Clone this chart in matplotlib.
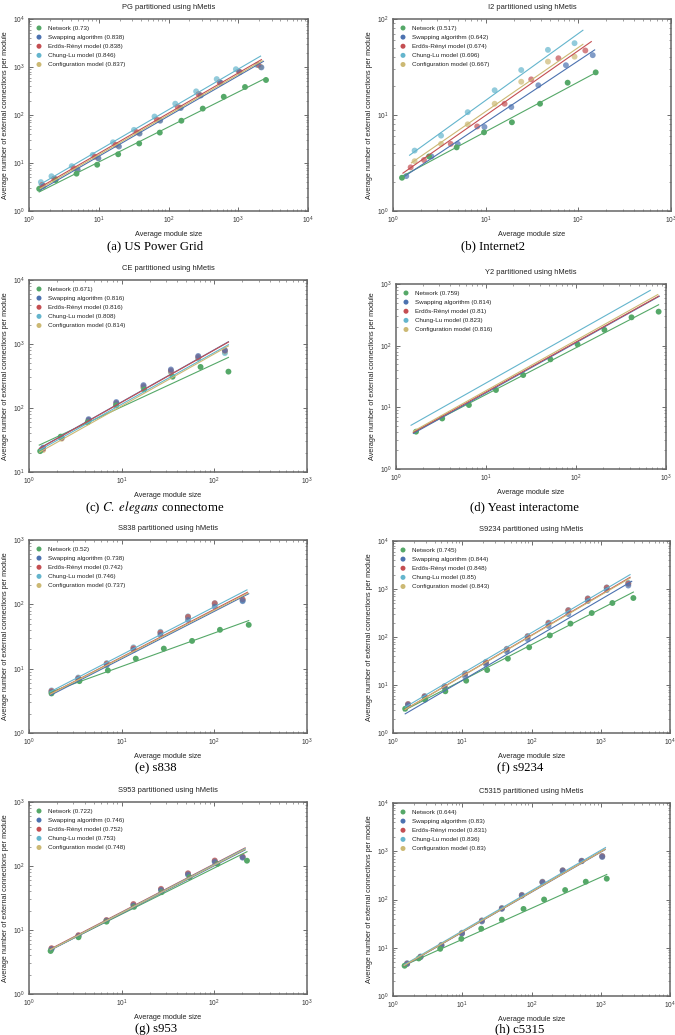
import numpy as np
import matplotlib
matplotlib.use("Agg")
import matplotlib.pyplot as plt

plt.rcParams['font.family'] = ['Liberation Sans', 'DejaVu Sans']
plt.rcParams['mathtext.fontset'] = 'stix'

COLORS = ['#55A868', '#4C72B0', '#C44E52', '#64B5CD', '#CCB974']
SERIES = ['net', 'swap', 'er', 'cl', 'cfg']
NAMES = ['Network', 'Swapping algorithm', 'Erdős-Rényi model', 'Chung-Lu model', 'Configuration model']

# ---------------- (a) PG ----------------
PG_X = {
    'net':  [1.4, 2.4, 4.8, 9.5, 19, 38, 75, 153, 310, 620, 1250, 2500],
    'swap': [1.6, 2.4, 5.0, 9.9, 19.5, 38.5, 76, 150, 290, 560, 1050, 2150],
    'er':   [1.55, 2.3, 4.4, 8.8, 17.5, 35, 68, 135, 270, 540, 1030, 1950],
    'cl':   [1.48, 2.1, 4.1, 8.2, 16, 32, 63, 125, 249, 491, 925, 1860],
    'cfg':  [1.6, 2.4, 4.9, 9.7, 19, 38, 75, 148, 285, 550, 1040, 2100],
}
PG_Y = {
    'net':  [2.9, 4.4, 6.0, 9.2, 15.2, 25.5, 43, 76, 136, 240, 383, 536],
    'swap': [3.3, 4.6, 7.2, 12.5, 22, 41, 76, 140, 255, 470, 780, 980],
    'er':   [3.5, 4.7, 7.8, 13.5, 24, 44, 80, 148, 270, 480, 800, 1100],
    'cl':   [4.0, 5.3, 8.6, 14.8, 27, 49, 93, 172, 311, 560, 900, 1100],
    'cfg':  [3.4, 4.6, 7.4, 12.8, 23, 42, 78, 143, 260, 475, 790, 1000],
}
PG_EXP = {'net': 0.73, 'swap': 0.838, 'er': 0.838, 'cl': 0.846, 'cfg': 0.837}
PG_COEF = {'net': 1.95, 'swap': 2.0, 'er': 2.3, 'cl': 2.62, 'cfg': 2.15}
PG_SPAN = {'net': [1.4, 2500], 'swap': [1.45, 2300], 'er': [1.45, 2150], 'cl': [1.4, 2090], 'cfg': [1.45, 2200]}

# ---------------- (b) I2 ----------------
I2_X = {
    'net':  [1.25, 2.45, 4.86, 9.6, 19.2, 38.6, 76.7, 154],
    'swap': [1.39, 2.6, 5.0, 9.7, 18.9, 37, 73.5, 143],
    'er':   [1.55, 2.16, 4.2, 8.1, 16, 31, 61, 119],
    'cl':   [1.71, 3.3, 6.4, 12.5, 24.2, 47, 91],
    'cfg':  [1.71, 3.3, 6.4, 12.5, 24.2, 47, 91],
}
I2_Y = {
    'net':  [2.22, 3.7, 4.6, 6.6, 8.4, 13.1, 21.7, 27.8],
    'swap': [2.31, 3.7, 5.0, 7.5, 12.1, 20.4, 33, 42],
    'er':   [2.85, 3.4, 5.0, 7.6, 13.1, 23.5, 39, 47],
    'cl':   [4.26, 6.1, 10.7, 18.1, 29.4, 47.7, 56],
    'cfg':  [3.3, 5.0, 8.0, 13.1, 22.2, 36, 40.5],
}
I2_EXP = {'net': 0.517, 'swap': 0.642, 'er': 0.674, 'cl': 0.696, 'cfg': 0.667}
I2_COEF = {'net': 2.04, 'swap': 1.91, 'er': 2.1, 'cl': 2.86, 'cfg': 2.34}
I2_SPAN = {'net': [1.23, 156], 'swap': [1.34, 150], 'er': [1.28, 138], 'cl': [1.51, 112], 'cfg': [1.58, 112]}

# ---------------- (c) CE ----------------
CE_X = {
    'net':  [1.32, 2.2, 4.3, 8.7, 17.5, 35.4, 71, 142],
    'swap': [1.42, 2.25, 4.4, 8.75, 17.2, 34, 67, 130],
    'er':   [1.42, 2.25, 4.4, 8.75, 17.2, 34, 67, 130],
    'cl':   [1.42, 2.25, 4.4, 8.75, 17.2, 34, 67, 130],
    'cfg':  [1.42, 2.25, 4.4, 8.75, 17.2, 34, 67, 130],
}
CE_Y = {
    'net':  [21.2, 35.7, 60, 110, 195, 308, 438, 370],
    'swap': [24, 35, 67, 124, 228, 400, 650, 800],
    'er':   [23, 34, 65, 120, 220, 385, 630, 790],
    'cl':   [23.5, 34, 64, 117, 210, 370, 600, 720],
    'cfg':  [22, 33, 62, 112, 205, 360, 590, 750],
}
CE_EXP = {'net': 0.671, 'swap': 0.816, 'er': 0.816, 'cl': 0.808, 'cfg': 0.814}
CE_COEF = {'net': 22.2, 'swap': 19.0, 'er': 18.8, 'cl': 17.8, 'cfg': 16.5}
CE_SPAN = {'net': [1.29, 142], 'swap': [1.3, 142], 'er': [1.3, 142], 'cl': [1.3, 142], 'cfg': [1.3, 142]}

# ---------------- (d) Y2 ----------------
Y2_X = {
    'net':  [1.67, 3.26, 6.46, 12.9, 25.9, 52, 104, 207, 414, 828],
    'swap': [], 'er': [], 'cl': [], 'cfg': [],
}
Y2_Y = {
    'net':  [4.03, 6.6, 10.9, 19.1, 33.4, 60, 105, 180, 288, 356],
    'swap': [], 'er': [], 'cl': [], 'cfg': [],
}
Y2_EXP = {'net': 0.759, 'swap': 0.814, 'er': 0.81, 'cl': 0.823, 'cfg': 0.816}
Y2_COEF = {'net': 2.81, 'swap': 2.63, 'er': 2.75, 'cl': 3.73, 'cfg': 2.85}
Y2_SPAN = {'net': [1.56, 828], 'swap': [1.56, 843], 'er': [1.56, 830], 'cl': [1.47, 669], 'cfg': [1.56, 810]}

# ---------------- (e) S838 ----------------
S838_X = {
    'net':  [1.75, 3.5, 7.1, 14.2, 28.5, 57.5, 115, 235],
    'swap': [1.75, 3.4, 6.9, 13.4, 26.2, 52, 101, 202],
    'er':   [1.75, 3.4, 6.9, 13.4, 26.2, 52, 101, 202],
    'cl':   [1.75, 3.4, 6.9, 13.4, 26.2, 52, 101, 202],
    'cfg':  [1.75, 3.4, 6.9, 13.4, 26.2, 52, 101, 202],
}
S838_Y = {
    'net':  [4.12, 6.4, 9.4, 14.3, 20.5, 27, 40.2, 48],
    'swap': [4.3, 6.9, 11.3, 19.5, 33.5, 57, 92, 112],
    'er':   [4.5, 7.1, 12, 20.8, 36.5, 64, 104, 120],
    'cl':   [4.6, 7.3, 12.2, 21.5, 37.5, 65, 104, 115],
    'cfg':  [4.4, 7.0, 11.8, 20.3, 35.5, 62, 100, 118],
}
S838_EXP = {'net': 0.52, 'swap': 0.738, 'er': 0.742, 'cl': 0.746, 'cfg': 0.737}
S838_COEF = {'net': 3.27, 'swap': 2.6, 'er': 2.74, 'cl': 2.95, 'cfg': 2.72}
S838_SPAN = {'net': [1.68, 235], 'swap': [1.7, 235], 'er': [1.7, 228], 'cl': [1.68, 225], 'cfg': [1.7, 230]}

# ---------------- (f) S9234 ----------------
S9234_X = {
    'net':  [1.5, 2.9, 5.7, 11.4, 22.9, 45.6, 92.5, 184, 365, 741, 1473, 2958],
    'swap': [1.65, 2.86, 5.56, 11, 22, 44, 88, 176, 340, 650, 1220, 2500],
    'er':   [1.65, 2.86, 5.56, 11, 22, 44, 88, 176, 340, 650, 1220, 2500],
    'cl':   [1.65, 2.86, 5.56, 11, 22, 44, 88, 176, 340, 650, 1220, 2500],
    'cfg':  [1.65, 2.86, 5.56, 11, 22, 44, 88, 176, 340, 650, 1220, 2500],
}
S9234_Y = {
    'net':  [3.2, 4.95, 7.4, 12.3, 20.5, 35.4, 61, 108, 190, 316, 511, 649],
    'swap': [3.8, 5.5, 8.6, 15, 27, 50, 90, 170, 300, 560, 950, 1180],
    'er':   [4.0, 5.8, 9.3, 17.2, 29.6, 56, 103, 195, 360, 630, 1070, 1300],
    'cl':   [4.0, 5.9, 9.5, 17.5, 30.5, 57, 105, 200, 365, 640, 1080, 1350],
    'cfg':  [3.9, 5.7, 9.1, 16.8, 29, 54, 100, 190, 350, 610, 1040, 1280],
}
S9234_EXP = {'net': 0.745, 'swap': 0.844, 'er': 0.848, 'cl': 0.85, 'cfg': 0.843}
S9234_COEF = {'net': 2.24, 'swap': 1.78, 'er': 2.19, 'cl': 2.45, 'cfg': 2.2}
S9234_SPAN = {'net': [1.42, 2958], 'swap': [1.5, 2800], 'er': [1.5, 2650], 'cl': [1.5, 2650], 'cfg': [1.5, 2650]}

# ---------------- (g) S953 ----------------
S953_X = {
    'net':  [1.71, 3.42, 6.86, 13.6, 27, 54, 108, 225],
    'swap': [1.75, 3.42, 6.86, 13.4, 26.6, 52, 101, 202],
    'er':   [1.75, 3.42, 6.86, 13.4, 26.6, 52, 101, 202],
    'cl':   [1.75, 3.42, 6.86, 13.4, 26.6, 52, 101, 202],
    'cfg':  [1.75, 3.42, 6.86, 13.4, 26.6, 52, 101, 202],
}
S953_Y = {
    'net':  [4.7, 7.7, 13.5, 23, 39, 67, 108, 121],
    'swap': [5.0, 8.0, 13.8, 24, 42, 73, 115, 135],
    'er':   [5.2, 8.3, 14.3, 25.5, 44, 77, 122, 140],
    'cl':   [5.1, 8.2, 14.2, 25, 43, 76, 120, 138],
    'cfg':  [5.1, 8.1, 14.0, 24.5, 43, 75, 118, 137],
}
S953_EXP = {'net': 0.722, 'swap': 0.746, 'er': 0.752, 'cl': 0.753, 'cfg': 0.748}
S953_COEF = {'net': 3.35, 'swap': 3.25, 'er': 3.38, 'cl': 3.3, 'cfg': 3.3}
S953_SPAN = {'net': [1.68, 225], 'swap': [1.7, 215], 'er': [1.7, 215], 'cl': [1.7, 215], 'cfg': [1.7, 215]}

# ---------------- (h) C5315 ----------------
C5315_X = {
    'net':  [1.47, 2.35, 4.8, 9.7, 18.8, 37.3, 76.7, 152, 306, 608, 1221],
    'swap': [1.6, 2.5, 5.0, 9.9, 19.2, 37.3, 72.5, 144, 282, 530, 1050],
    'er':   [1.6, 2.5, 5.0, 9.9, 19.2, 37.3, 72.5, 144, 282, 530, 1050],
    'cl':   [1.6, 2.5, 5.0, 9.9, 19.2, 37.3, 72.5, 144, 282, 530, 1050],
    'cfg':  [1.6, 2.5, 5.0, 9.9, 19.2, 37.3, 72.5, 144, 282, 530, 1050],
}
C5315_Y = {
    'net':  [4.24, 6.0, 9.5, 15.3, 24.8, 38.2, 63.8, 100, 157, 234, 270],
    'swap': [4.6, 6.4, 11, 19.5, 35, 64, 120, 225, 390, 620, 760],
    'er':   [4.7, 6.5, 11.3, 19.9, 36.4, 65.5, 123, 230, 400, 630, 790],
    'cl':   [4.8, 6.6, 11.5, 20.5, 37, 67, 125, 235, 405, 640, 800],
    'cfg':  [4.7, 6.5, 11.2, 20, 36, 65, 122, 228, 398, 625, 780],
}
C5315_EXP = {'net': 0.644, 'swap': 0.83, 'er': 0.831, 'cl': 0.836, 'cfg': 0.83}
C5315_COEF = {'net': 3.39, 'swap': 3.1, 'er': 3.15, 'cl': 3.25, 'cfg': 3.15}
C5315_SPAN = {'net': [1.42, 1221], 'swap': [1.45, 1155], 'er': [1.45, 1155], 'cl': [1.45, 1170], 'cfg': [1.45, 1155]}

TITLES = ["PG partitioned using hMetis", "I2 partitioned using hMetis",
          "CE partitioned using hMetis", "Y2 partitioned using hMetis",
          "S838 partitioned using hMetis", "S9234 partitioned using hMetis",
          "S953 partitioned using hMetis", "C5315 partitioned using hMetis"]
CAPTIONS = ["(a) US Power Grid", "(b) Internet2",
            r"(c) $\mathit{C.\ elegans}$ connectome", "(d) Yeast interactome",
            "(e) s838", "(f) s9234", "(g) s953", "(h) c5315"]
XLIMS = [(1, 1e4), (1, 1e3), (1, 1e3), (1, 1e3), (1, 1e3), (1, 1e4), (1, 1e3), (1, 1e4)]
YLIMS = [(1, 1e4), (1, 1e2), (10, 1e4), (1, 1e3), (1, 1e3), (1, 1e4), (1, 1e3), (1, 1e4)]

DATA = [(PG_X, PG_Y, PG_EXP, PG_COEF, PG_SPAN),
        (I2_X, I2_Y, I2_EXP, I2_COEF, I2_SPAN),
        (CE_X, CE_Y, CE_EXP, CE_COEF, CE_SPAN),
        (Y2_X, Y2_Y, Y2_EXP, Y2_COEF, Y2_SPAN),
        (S838_X, S838_Y, S838_EXP, S838_COEF, S838_SPAN),
        (S9234_X, S9234_Y, S9234_EXP, S9234_COEF, S9234_SPAN),
        (S953_X, S953_Y, S953_EXP, S953_COEF, S953_SPAN),
        (C5315_X, C5315_Y, C5315_EXP, C5315_COEF, C5315_SPAN)]

# layout (pixels): left, right, top, bottom of each axes; caption centre
W, H = 675, 1035
BOXES = [(29, 308, 19, 211), (393, 671, 19, 211),
         (29, 307, 280, 472), (396, 666, 284, 469),
         (29, 307, 540, 733), (393, 670, 541, 733),
         (29, 307, 802, 994), (393, 670, 803, 996)]
CAP_POS = [(155, 246), (493, 246), (155, 507), (524, 507),
           (156, 768), (520, 768), (156, 1029), (520, 1029)]
POINT_Z = {'net': 3.0, 'swap': 2.8, 'er': 2.6, 'cl': 2.4, 'cfg': 2.2}

fig = plt.figure(figsize=(W / 100, H / 100), dpi=100)

for k in range(8):
    l, r, t, b = BOXES[k]
    ax = fig.add_axes([l / W, 1 - b / H, (r - l) / W, (b - t) / H])
    X, Y, EXP, COEF, SPAN = DATA[k]
    handles = []
    for i, s in enumerate(SERIES):
        is_net = (s == 'net')
        h = ax.scatter(X[s], Y[s], s=18, color=COLORS[i], edgecolors='none',
                       alpha=1.0 if is_net else 0.7, zorder=POINT_Z[s],
                       label=f"{NAMES[i]} ({EXP[s]:g})")
        handles.append(h)
        xs = np.geomspace(SPAN[s][0], SPAN[s][1], 60)
        ax.plot(xs, COEF[s] * xs ** EXP[s], color=COLORS[i], lw=0.8, zorder=4)
    ax.set_xscale('log')
    ax.set_yscale('log')
    ax.set_xlim(*XLIMS[k])
    ax.set_ylim(*YLIMS[k])
    ax.set_title(TITLES[k], fontsize=5.4, pad=7, color='#222222')
    ax.set_xlabel("Average module size", fontsize=5.2, labelpad=3, color='#222222')
    ax.set_ylabel("Average number of external connections per module", fontsize=5.2,
                  labelpad=3, color='#222222')
    ax.tick_params(which='both', direction='in', top=True, right=True, labelsize=4.8,
                   color='#555555', labelcolor='#333333', width=0.6, pad=3)
    ax.tick_params(which='major', length=3)
    ax.tick_params(which='minor', length=1.5, width=0.4)
    for sp in ax.spines.values():
        sp.set_color('#666666')
        sp.set_linewidth(1.1)
    leg = ax.legend(handles=handles, loc='upper left', frameon=False, fontsize=4.5,
                    scatterpoints=1, markerscale=0.85, handletextpad=0.9,
                    labelspacing=0.6, borderaxespad=0.7, handlelength=1.2,
                    borderpad=0.3)
    for lh in leg.legend_handles:
        lh.set_alpha(1.0)
    for txt in leg.get_texts():
        txt.set_color('#222222')
    cx, cy = CAP_POS[k]
    fig.text(cx / W, 1 - cy / H, CAPTIONS[k], ha='center', va='center',
             fontsize=9.2, family=['Liberation Serif', 'DejaVu Serif'])

fig.savefig("out.png", dpi=100)
